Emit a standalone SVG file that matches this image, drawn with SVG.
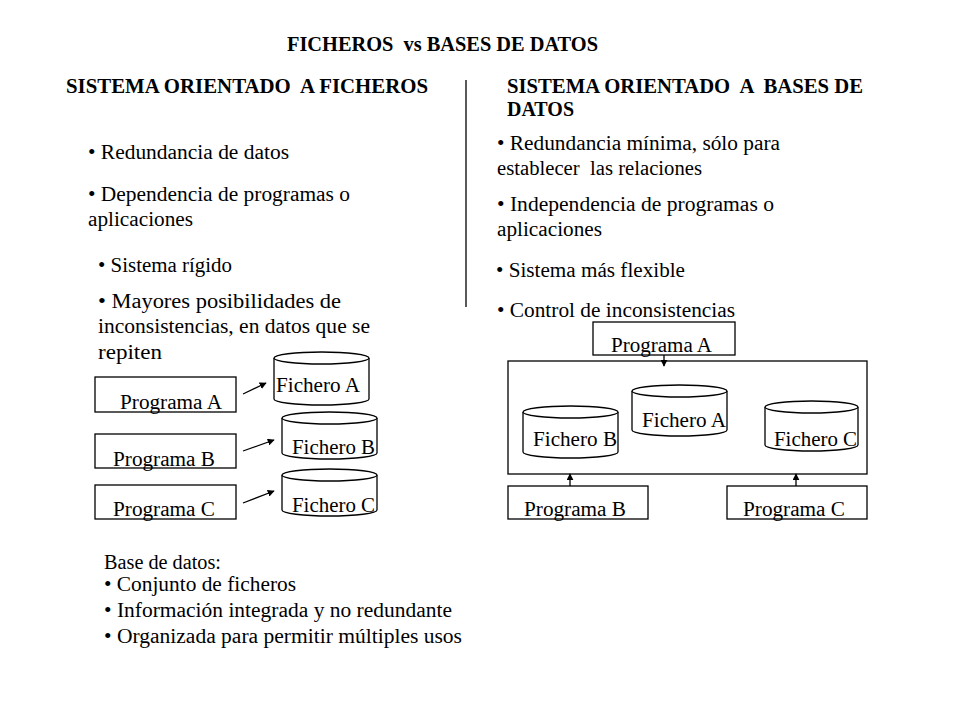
<svg xmlns="http://www.w3.org/2000/svg" width="960" height="720" viewBox="0 0 960 720">
<defs>
<style>
text{font-family:"Liberation Serif","Times New Roman",serif;font-size:20px;fill:#000;white-space:pre}
.h{font-weight:bold;font-size:22px}
.t{font-weight:bold;font-size:20px}
.box{fill:#fff;stroke:#000;stroke-width:1.3}
.cyl{fill:#fff;stroke:#000;stroke-width:1.3}
.con{stroke:#000;stroke-width:1.3;fill:none}
</style>
<marker id="ah" viewBox="0 0 10 10" refX="9" refY="5" markerWidth="7" markerHeight="7" orient="auto" markerUnits="userSpaceOnUse">
<path d="M0,0 L10,5 L0,10 z" fill="#000"/>
</marker>
</defs>
<rect width="960" height="720" fill="#fff"/>
<text class="t" x="287" y="51" textLength="311" lengthAdjust="spacingAndGlyphs">FICHEROS  vs BASES DE DATOS</text>
<text class="h" x="66" y="93" xml:space="preserve" textLength="362" lengthAdjust="spacingAndGlyphs">SISTEMA ORIENTADO  A FICHEROS</text>
<text class="h" x="507" y="93" xml:space="preserve" textLength="356" lengthAdjust="spacingAndGlyphs">SISTEMA ORIENTADO  A  BASES DE</text>
<text class="h" x="507" y="116" textLength="67" lengthAdjust="spacingAndGlyphs">DATOS</text>
<line x1="466" y1="80" x2="466" y2="307" stroke="#000" stroke-width="1.3"/>

<text x="88" y="159" textLength="201" lengthAdjust="spacingAndGlyphs">• Redundancia de datos</text>
<text x="88" y="201" textLength="262" lengthAdjust="spacingAndGlyphs">• Dependencia de programas o</text>
<text x="88" y="226" textLength="105" lengthAdjust="spacingAndGlyphs">aplicaciones</text>
<text x="98" y="272" textLength="134" lengthAdjust="spacingAndGlyphs">• Sistema rígido</text>
<text x="98" y="308" textLength="243" lengthAdjust="spacingAndGlyphs">• Mayores posibilidades de</text>
<text x="98" y="333" textLength="272" lengthAdjust="spacingAndGlyphs">inconsistencias, en datos que se</text>
<text x="98" y="359" textLength="64" lengthAdjust="spacingAndGlyphs">repiten</text>

<text x="497" y="150" textLength="283" lengthAdjust="spacingAndGlyphs">• Redundancia mínima, sólo para</text>
<text x="497" y="175" xml:space="preserve" textLength="205" lengthAdjust="spacingAndGlyphs">establecer  las relaciones</text>
<text x="497" y="211" textLength="277" lengthAdjust="spacingAndGlyphs">• Independencia de programas o</text>
<text x="497" y="236" textLength="105" lengthAdjust="spacingAndGlyphs">aplicaciones</text>
<text x="496" y="277" textLength="189" lengthAdjust="spacingAndGlyphs">• Sistema más flexible</text>
<text x="497" y="317" textLength="238" lengthAdjust="spacingAndGlyphs">• Control de inconsistencias</text>

<g id="l-progA"><rect class="box" x="95" y="377" width="141" height="35"/><text x="120" y="409" textLength="102" lengthAdjust="spacingAndGlyphs">Programa A</text></g>
<g id="l-progB"><rect class="box" x="95" y="434" width="141" height="34"/><text x="113" y="466" textLength="102" lengthAdjust="spacingAndGlyphs">Programa B</text></g>
<g id="l-progC"><rect class="box" x="95" y="485" width="141" height="34"/><text x="113" y="516" textLength="102" lengthAdjust="spacingAndGlyphs">Programa C</text></g>
<g id="l-fichA"><path class="cyl" d="M274,358 V399 A47.5,6 0 0 0 369,399 V358"/><ellipse class="cyl" cx="321.5" cy="358" rx="47.5" ry="6"/><text x="276" y="392" textLength="84" lengthAdjust="spacingAndGlyphs">Fichero A</text></g>
<g id="l-fichB"><path class="cyl" d="M282,418 V453 A47.5,6 0 0 0 377,453 V418"/><ellipse class="cyl" cx="329.5" cy="418" rx="47.5" ry="6"/><text x="292" y="454" textLength="83" lengthAdjust="spacingAndGlyphs">Fichero B</text></g>
<g id="l-fichC"><path class="cyl" d="M282,475 V510 A47.5,6 0 0 0 377,510 V475"/><ellipse class="cyl" cx="329.5" cy="475" rx="47.5" ry="6"/><text x="292" y="512" textLength="83" lengthAdjust="spacingAndGlyphs">Fichero C</text></g>

<g id="r-db"><rect class="box" x="508" y="361" width="359" height="113"/></g>
<g id="r-progA"><rect class="box" x="593" y="322" width="142" height="33"/><text x="611" y="352" textLength="101" lengthAdjust="spacingAndGlyphs">Programa A</text></g>
<g id="r-fichA"><path class="cyl" d="M632,391 V430 A47.5,6 0 0 0 727,430 V391"/><ellipse class="cyl" cx="679.5" cy="391" rx="47.5" ry="6"/><text x="642" y="427" textLength="84" lengthAdjust="spacingAndGlyphs">Fichero A</text></g>
<g id="r-fichB"><path class="cyl" d="M523,412 V452 A47.5,6 0 0 0 618,452 V412"/><ellipse class="cyl" cx="570.5" cy="412" rx="47.5" ry="6"/><text x="533" y="446" textLength="84" lengthAdjust="spacingAndGlyphs">Fichero B</text></g>
<g id="r-fichC"><path class="cyl" d="M765,407 V445 A46.5,6 0 0 0 858,445 V407"/><ellipse class="cyl" cx="811.5" cy="407" rx="46.5" ry="6"/><text x="774" y="446" textLength="83" lengthAdjust="spacingAndGlyphs">Fichero C</text></g>
<g id="r-progB"><rect class="box" x="508" y="486" width="140" height="33"/><text x="524" y="516" textLength="102" lengthAdjust="spacingAndGlyphs">Programa B</text></g>
<g id="r-progC"><rect class="box" x="727" y="486" width="140" height="33"/><text x="743" y="516" textLength="102" lengthAdjust="spacingAndGlyphs">Programa C</text></g>

<g id="connectors">
<line class="con" x1="243" y1="394" x2="266" y2="383" marker-end="url(#ah)"/>
<line class="con" x1="243" y1="451" x2="274" y2="440" marker-end="url(#ah)"/>
<line class="con" x1="243" y1="503" x2="274" y2="491" marker-end="url(#ah)"/>
<line class="con" x1="664" y1="355" x2="664" y2="366" marker-end="url(#ah)"/>
<line class="con" x1="570" y1="486" x2="570" y2="474" marker-end="url(#ah)"/>
<line class="con" x1="796" y1="486" x2="796" y2="474" marker-end="url(#ah)"/>
</g>

<text x="104" y="569" textLength="117" lengthAdjust="spacingAndGlyphs">Base de datos:</text>
<text x="104" y="591" textLength="192" lengthAdjust="spacingAndGlyphs">• Conjunto de ficheros</text>
<text x="104" y="617" textLength="348" lengthAdjust="spacingAndGlyphs">• Información integrada y no redundante</text>
<text x="104" y="643" textLength="358" lengthAdjust="spacingAndGlyphs">• Organizada para permitir múltiples usos</text>
</svg>
